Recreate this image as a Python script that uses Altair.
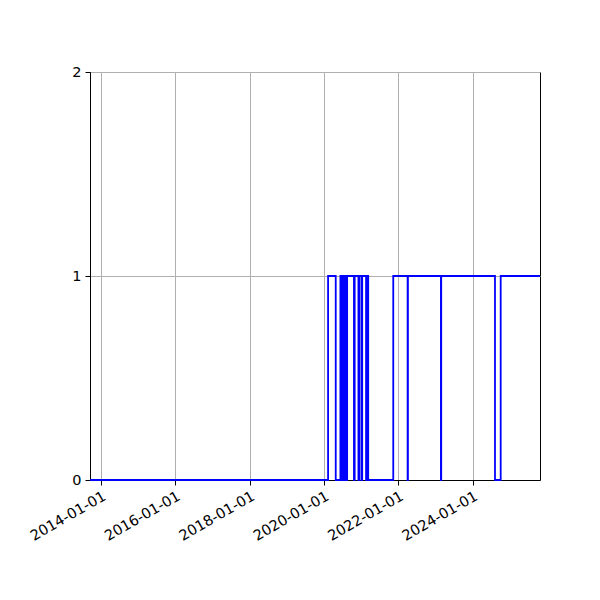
import pandas as pd
import altair as alt

# State changes (date the value switches to, value held until next change)
change_dates = [
    "2013-09-16", "2020-02-10", "2020-04-25", "2020-06-10", "2020-06-20",
    "2020-06-28", "2020-07-06", "2020-07-14", "2020-07-22", "2020-07-30",
    "2020-08-08", "2020-08-15", "2020-10-21", "2020-10-28", "2020-12-04",
    "2020-12-12", "2021-01-03", "2021-01-10", "2021-02-17", "2021-02-24",
    "2021-03-10", "2021-11-11", "2022-04-01", "2022-04-04", "2023-02-22",
    "2023-02-25", "2024-08-06", "2024-10-01", "2025-10-22",
]
change_values = [
    0, 1, 0, 1, 0,
    1, 0, 1, 0, 1,
    0, 1, 0, 1, 0,
    1, 0, 1, 0, 1,
    0, 1, 0, 1, 0,
    1, 0, 1, 1,
]

tick_years = [2014, 2016, 2018, 2020, 2022, 2024]

df = pd.DataFrame({"date": change_dates, "value": change_values})

x_ticks = [alt.DateTime(year=y, month=1, date=1, utc=True) for y in tick_years]

chart = (alt.Chart(df)
    .mark_line(interpolate="step-after", color="#0000ff", strokeWidth=1.8)
    .encode(
        x=alt.X("date:T",
                scale=alt.Scale(type="utc",
                                domain=[alt.DateTime(year=2013, month=9, date=16, utc=True),
                                        alt.DateTime(year=2025, month=10, date=22, utc=True)]),
                axis=alt.Axis(values=x_ticks, format="%Y-%m-%d", title=None,
                              labelAngle=-30, labelAlign="right", labelBaseline="top",
                              labelOverlap=False)),
        y=alt.Y("value:Q",
                scale=alt.Scale(domain=[0, 2], nice=False),
                axis=alt.Axis(tickCount=2, format="d", title=None,
                              grid=True, labelOverlap=False)),
    )
    .properties(width=450, height=408,
                autosize=alt.AutoSizeParams(type="none"),
                padding={"left": 82, "top": 64, "right": 52, "bottom": 112})
    .configure_view(stroke="black", strokeWidth=1)
    .configure_axis(
        domainColor="black", tickColor="black", gridColor="#b0b0b0",
        gridWidth=1, tickSize=5, labelFontSize=14.5, labelColor="black",
        labelFont="DejaVu Sans", labelPadding=4, domain=True,
    )
)

chart.save("out.html", embed_options={"renderer": "svg", "actions": False})
